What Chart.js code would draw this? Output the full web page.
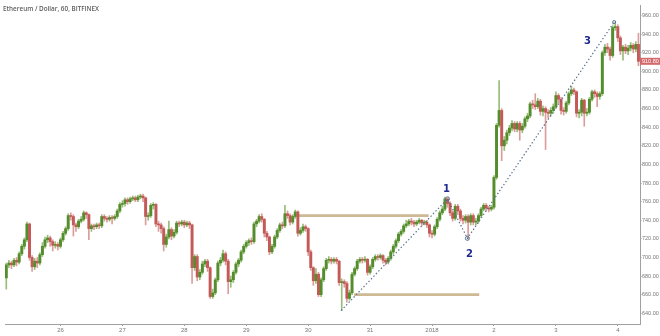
<!DOCTYPE html>
<html>
<head>
<meta charset="utf-8">
<script src="https://cdn.jsdelivr.net/npm/chart.js@4.4.1/dist/chart.umd.min.js"></script>
<style>
    html, body { margin: 0; padding: 0; background: #fff; }
    #wrap { width: 660px; height: 336px; }
</style>
</head>
<body>
<div id="wrap"><canvas id="myChart" width="660" height="336"></canvas></div>
<script>
// ETH/USD hourly candles, hour 3 = Dec 25 03:00 ... hour 248 = Jan 4 08:00
var title = 'Ethereum / Dollar, 60, BITFINEX';
var firstHour = 3;
var firstOpen = 678;

var closes = [
    692,694,692,697,695,704,712,719,736,700,690,696,
    694,703,712,719,721,717,713,714,712,719,726,731,
    745,744,735,733,739,741,748,746,731,734,733,735,
    734,744,742,741,743,742,744,750,757,758,762,760,
    763,764,762,765,766,764,744,745,756,757,736,735,
    731,714,722,730,723,727,737,736,738,735,737,735,
    689,701,679,684,693,696,689,658,662,676,694,697,
    704,696,674,676,684,693,697,706,712,716,718,717,
    736,739,744,741,726,722,706,712,722,729,735,734,
    747,745,738,744,749,726,729,733,731,706,689,675,
    682,660,676,688,697,698,696,698,696,673,674,672,
    656,662,682,688,696,698,697,698,684,690,698,701,
    700,702,697,695,699,706,712,718,725,728,734,736,
    739,738,736,738,740,737,738,735,726,725,733,741,
    748,752,763,758,748,742,755,750,742,740,744,738,
    745,738,739,745,752,756,753,752,754,786,842,858,
    820,826,834,839,844,838,844,837,841,849,852,865,
    864,862,868,857,860,856,855,858,862,874,870,858,
    857,866,876,880,878,855,856,869,855,856,870,878,
    876,873,876,920,926,924,917,947,948,936,922,926,
    922,925,928,924,929,910.8
];

var highs = [
    694,697,696,699,700,706,714,721,738,737,702,699,
    700,705,716,722,724,723,719,717,716,721,728,733,
    747,748,746,737,741,744,750,749,747,736,736,737,
    737,746,746,744,745,745,746,752,759,761,764,764,
    765,766,766,767,768,768,765,748,758,759,758,739,
    737,733,725,739,732,730,739,739,740,740,739,739,
    736,703,703,687,696,698,698,690,666,678,696,700,
    708,706,698,680,686,695,699,708,714,718,720,721,
    738,741,746,747,742,728,723,714,724,731,737,738,
    756,750,747,746,751,750,732,736,735,732,708,690,
    688,684,678,690,699,701,700,700,700,697,677,676,
    674,665,684,690,698,700,700,701,699,692,700,703,
    703,704,703,699,701,708,714,720,727,730,736,740,
    741,742,740,740,742,741,740,740,736,729,735,743,
    750,755,765,764,760,750,757,757,752,745,746,746,
    747,747,742,747,754,758,758,755,756,788,844,890,
    860,830,837,842,847,846,846,846,844,851,855,867,
    869,876,871,870,863,862,859,861,865,878,876,872,
    861,868,878,884,882,879,859,871,870,860,872,880,
    880,878,878,922,929,930,926,949,953,950,938,928,
    929,928,931,930,932,941
];

var lows = [
    666,689,688,690,691,693,702,709,717,697,685,687,
    689,692,701,710,716,712,707,710,708,710,717,724,
    729,740,723,728,731,737,739,742,719,728,730,731,
    731,732,739,738,739,736,740,742,748,754,755,757,
    758,761,760,760,763,760,735,740,743,752,733,728,
    726,707,711,720,719,721,725,733,734,732,733,731,
    672,686,675,676,682,690,685,656,656,660,674,691,
    695,692,661,668,673,682,690,695,704,710,713,714,
    715,733,737,738,722,718,703,704,710,720,727,731,
    732,742,735,736,742,723,724,727,728,702,686,670,
    672,658,658,674,686,694,693,694,693,670,643,668,
    652,654,660,680,686,694,694,695,681,682,688,696,
    697,698,694,692,693,697,704,710,716,723,726,732,
    734,735,733,734,736,734,735,732,722,721,723,731,
    739,746,750,754,745,739,740,746,739,736,737,720,
    735,735,735,737,743,750,750,749,750,752,784,840,
    804,815,822,831,836,835,835,826,834,839,846,850,
    860,859,860,853,852,816,850,852,855,860,866,854,
    853,855,864,874,875,851,850,852,841,852,854,868,
    872,862,870,874,917,920,912,915,944,932,918,912,
    919,918,922,920,921,906
];

var lastPrice = 910.80;

var dayTicks = [24, 48, 72, 96, 120, 144, 168, 192, 216, 240];
var dayLabels = ['26', '27', '28', '29', '30', '31', '2018', '2', '3', '4'];
var priceTicks = [640, 660, 680, 700, 720, 740, 760, 780, 800, 820, 840, 860, 880, 900, 920, 940, 960];

// horizontal levels drawn on the chart
var levelPrices = [745, 660];
var levelStart = [116.3, 137.8];
var levelEnd = [166.7, 186.3];

// dotted wave line and its labels
var waveHours = [132.8, 174.0, 181.7, 238.6];
var wavePrices = [643, 763, 720.5, 953];
var waveNames = ['1', '2', '3'];
var nameHours = [173.6, 182.5, 228.2];
var namePrices = [773.4, 703.6, 932.2];

window.onload = function () {

    var hours = closes.map(function (c, i) { return firstHour + i; });
    var opens = closes.map(function (c, i) { return i === 0 ? firstOpen : closes[i - 1]; });
    var isUp = closes.map(function (c, i) { return c >= opens[i]; });

    var bodyColors = isUp.map(function (u) { return u ? '#548d2c' : '#c45a57'; });
    var wickColors = isUp.map(function (u) { return u ? '#97bd78' : '#dc9c9b'; });

    var datasets = [];

    levelPrices.forEach(function (p, i) {
        datasets.push({
            type: 'line',
            data: [{ x: levelStart[i], y: p }, { x: levelEnd[i], y: p }],
            borderColor: '#cdb993',
            borderWidth: 2.8,
            pointRadius: 0,
            order: 5
        });
    });

    datasets.push({
        type: 'bar',
        data: hours.map(function (h, i) { return { x: h, y: [lows[i], highs[i]] }; }),
        backgroundColor: wickColors,
        barThickness: 1,
        grouped: false,
        order: 4
    });

    datasets.push({
        type: 'bar',
        data: hours.map(function (h, i) { return { x: h, y: [opens[i], closes[i]] }; }),
        backgroundColor: bodyColors,
        barThickness: 2.3,
        minBarLength: 1,
        grouped: false,
        order: 3
    });

    datasets.push({
        type: 'line',
        data: waveHours.map(function (h, i) { return { x: h, y: wavePrices[i] }; }),
        borderColor: '#56708f',
        borderWidth: 1.2,
        borderDash: [1.4, 2.2],
        tension: 0,
        pointRadius: [0, 2, 2, 1.5],
        pointBorderColor: '#56708f',
        pointBackgroundColor: 'rgba(255,255,255,0)',
        pointBorderWidth: 1,
        order: 0
    });

    var overlay = {
        id: 'overlay',
        afterDraw: function (chart) {
            var c = chart.ctx, xs = chart.scales.x, ys = chart.scales.y, a = chart.chartArea;
            c.save();

            c.fillStyle = '#5c5c5c';
            c.font = '600 7px "Open Sans"';
            c.textAlign = 'left';
            c.textBaseline = 'alphabetic';
            c.fillText(title, 3, 10.5, 96);

            c.fillStyle = '#1f2b8e';
            c.font = 'bold 10px "DejaVu Sans"';
            c.textAlign = 'center';
            c.textBaseline = 'middle';
            waveNames.forEach(function (n, i) {
                c.fillText(n, xs.getPixelForValue(nameHours[i]), ys.getPixelForValue(namePrices[i]));
            });

            var py = ys.getPixelForValue(lastPrice);
            c.fillStyle = '#d2696a';
            c.fillRect(a.right, py - 3.5, chart.width - a.right, 7);
            c.fillStyle = '#ffffff';
            c.font = '5.5px "Liberation Sans"';
            c.textAlign = 'left';
            c.fillText(lastPrice.toFixed(2), a.right + 2, py + 0.5);

            c.restore();
        }
    };

    var ctx = document.getElementById('myChart').getContext('2d');
    var chart = new Chart(ctx, {
        type: 'bar',
        data: { datasets: datasets },
        options: {
            responsive: false,
            animation: false,
            events: [],
            layout: { padding: 0 },
            plugins: { legend: { display: false }, tooltip: { enabled: false } },
            scales: {
                x: {
                    type: 'linear',
                    min: 2.5,
                    max: 248.6,
                    offset: false,
                    afterBuildTicks: function (s) { s.ticks = dayTicks.map(function (v) { return { value: v }; }); },
                    afterFit: function (s) { s.height = 12; s.paddingLeft = 0; s.paddingRight = 0; },
                    ticks: {
                        autoSkip: false,
                        maxRotation: 0,
                        padding: 1,
                        color: '#777',
                        font: { size: 6, family: '"Liberation Sans"' },
                        callback: function (v) { return dayLabels[dayTicks.indexOf(v)]; }
                    },
                    grid: { offset: false, drawOnChartArea: false, tickLength: 2, color: '#a0a0a0' },
                    border: { color: '#a0a0a0' }
                },
                y: {
                    type: 'linear',
                    position: 'right',
                    min: 628.5,
                    max: 971.3,
                    beginAtZero: false,
                    afterBuildTicks: function (s) { s.ticks = priceTicks.map(function (v) { return { value: v }; }); },
                    afterFit: function (s) { s.width = 20; s.paddingTop = 0; s.paddingBottom = 0; },
                    ticks: {
                        padding: 0.5,
                        color: '#777',
                        font: { size: 5.5, family: '"Liberation Sans"' },
                        callback: function (v) { return v.toFixed(2); }
                    },
                    grid: { drawOnChartArea: false, tickLength: 1.5, color: '#a0a0a0' },
                    border: { color: '#a0a0a0' }
                }
            }
        },
        plugins: [overlay]
    });
};
</script>
</body>
</html>
